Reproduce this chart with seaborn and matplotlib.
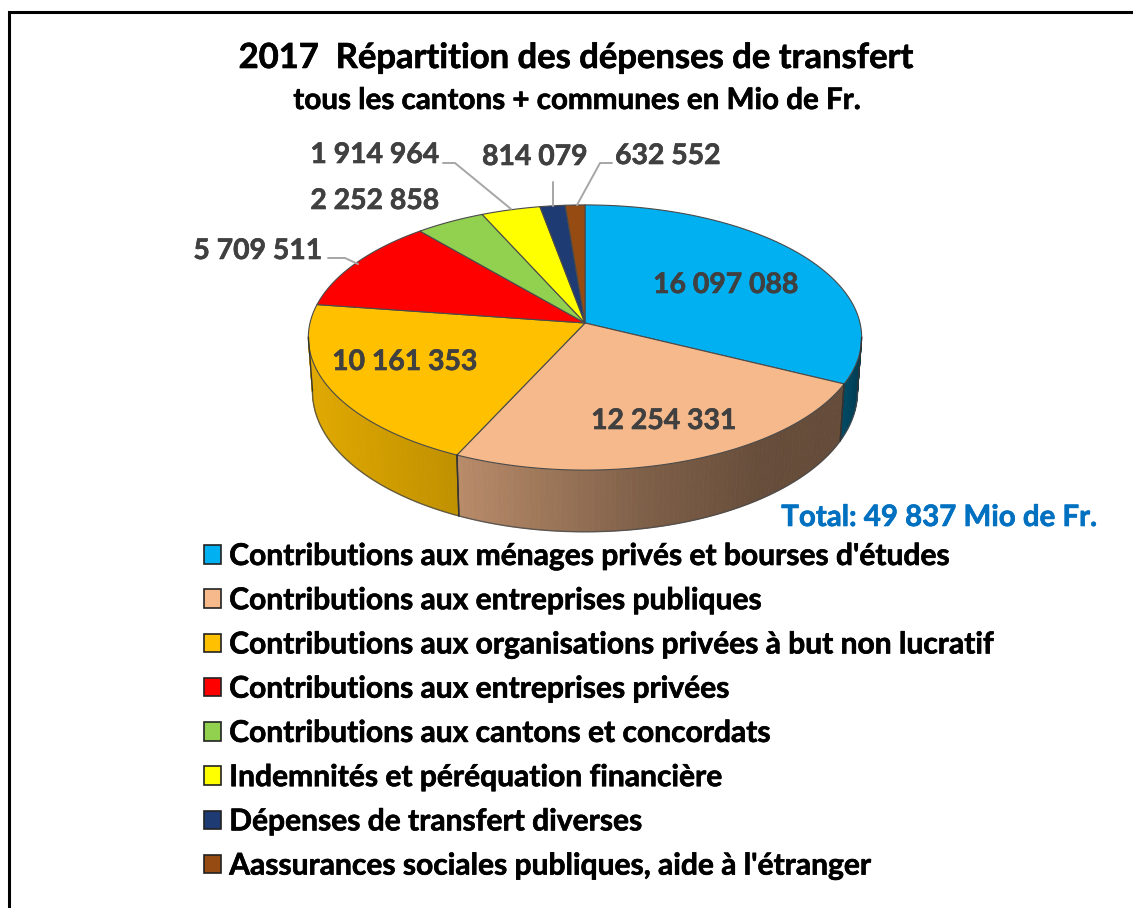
import matplotlib

matplotlib.use("Agg")
import matplotlib.patheffects as pe
import matplotlib.pyplot as plt
import numpy as np
import seaborn as sns
from matplotlib.patches import Patch

CATEGORIES = [
    "Contributions aux ménages privés et bourses d'études",
    "Contributions aux entreprises publiques",
    "Contributions aux organisations privées à but non lucratif",
    "Contributions aux entreprises privées",
    "Contributions aux cantons et concordats",
    "Indemnités et péréquation financière",
    "Dépenses de transfert diverses",
    "Aassurances sociales publiques, aide à l'étranger",
]
VALUES = [16097088, 12254331, 10161353, 5709511, 2252858, 1914964, 814079, 632552]
COLORS = ["#00B0F0", "#F5B98C", "#FFC000", "#FF0000", "#92D050", "#FFFF00", "#1F3B73", "#964B12"]

TITLE = "2017  Répartition des dépenses de transfert"
SUBTITLE = "tous les cantons + communes en Mio de Fr."
TOTAL = "Total: 49 837 Mio de Fr."

# layout, in pixels of the 1133x908 picture
LABEL_XY = [(726, 285), (664, 421), (405, 362), (258, 251), (375, 201), (375, 155), (535, 157), (668, 156)]
LEADERS = [
    [(328, 258), (345, 258), (358, 264)],
    [(443, 163), (455, 163), (511, 209)],
    [(553, 182), (553, 206)],
    [(612, 163), (600, 163), (577, 205)],
]
CX, CY = 585, 323
RX, RY, PERSP = 275, 131, 0.1094
DEPTH, DEPTH_SLOPE, BOTTOM_SCALE = 53, 8.7, 0.985
SHADE_X = [309, 460, 640, 760, 845, 865]
SHADE_F = [0.88, 0.75, 0.52, 0.42, 0.41, 0.33]


def top_ring(theta):
    u, v = np.sin(theta), np.cos(theta)
    den = 1 + PERSP * v
    return CX + RX * u / den, CY - RY * v / den


def bottom_ring(theta):
    x, y = top_ring(theta)
    return CX + (x - CX) * BOTTOM_SCALE, y + DEPTH - DEPTH_SLOPE * np.cos(theta)


def heavy(color):
    # the reference's bold is heavier than Lato Bold
    return [pe.withStroke(linewidth=0.45, foreground=color)]


def main():
    sns.set_theme(style="white")
    plt.rcParams["font.family"] = ["Lato", "DejaVu Sans"]
    plt.rcParams["font.weight"] = "bold"
    palette = sns.color_palette(COLORS)

    fig = plt.figure(figsize=(11.33, 9.08), dpi=100)
    ax = fig.add_axes([0, 0, 1, 1])
    ax.set_xlim(0, 1133)
    ax.set_ylim(908, 0)
    ax.axis("off")

    # frame: only top and left fall inside the picture
    ax.plot([9, 9, 1133], [908, 12, 12], color="black", lw=2.2, solid_joinstyle="miter")

    edges = np.concatenate([[0], np.cumsum(VALUES)]) / sum(VALUES) * 2 * np.pi

    # side walls, shaded strip by strip
    for i, color in enumerate(palette):
        steps = np.linspace(edges[i], edges[i + 1], max(int(np.degrees(edges[i + 1] - edges[i])), 2))
        steps = steps[np.cos(steps) <= -PERSP + 0.02] if (np.cos(steps) <= -PERSP + 0.02).sum() > 1 else []
        if len(steps) == 0:
            continue
        for a, b in zip(steps[:-1], steps[1:]):
            x0, y0 = top_ring(a)
            x1, y1 = top_ring(b)
            x2, y2 = bottom_ring(b)
            x3, y3 = bottom_ring(a)
            f = np.interp((x0 + x1) / 2, SHADE_X, SHADE_F)
            shaded = tuple(c * f for c in color)
            ax.fill([x0, x1, x2, x3], [y0, y1, y2, y3], color=shaded, lw=0.6)
        xb, yb = bottom_ring(steps)
        ax.plot(xb, yb, color="#4a4a4a", lw=1.0, alpha=0.8)
        for t in [steps[0], steps[-1]]:
            xt, yt = top_ring(t)
            xb, yb = bottom_ring(t)
            ax.plot([xt, xb], [yt, yb], color="#333333", lw=1.0)

    # top faces
    for i, color in enumerate(palette):
        steps = np.linspace(edges[i], edges[i + 1], 120)
        x, y = top_ring(steps)
        ax.fill(np.r_[CX, x], np.r_[CY, y], facecolor=color, edgecolor="#4a4a4a", lw=0.8, joinstyle="round")

    for path in LEADERS:
        xs, ys = zip(*path)
        ax.plot(xs, ys, color="#A6A6A6", lw=1.4)

    for value, (x, y) in zip(VALUES, LABEL_XY):
        text = f"{value:,}".replace(",", " ")
        ax.text(x, y, text, ha="center", va="center", fontsize=20.4, color="#404040", path_effects=heavy("#404040"))

    ax.text(577, 58, TITLE, ha="center", va="center", fontsize=24.9, color="black", path_effects=heavy("black"))
    ax.text(577, 100, SUBTITLE, ha="center", va="center", fontsize=21.3, color="black", path_effects=heavy("black"))
    ax.text(1096, 518, TOTAL, ha="right", va="center", fontsize=21.2, color="#0070C0", path_effects=heavy("#0070C0"))

    handles = [Patch(facecolor=c, edgecolor="#222222", lw=1.2) for c in palette]
    legend = ax.legend(
        handles,
        CATEGORIES,
        loc="upper left",
        bbox_to_anchor=(204 / 1133, 1 - 542 / 908),
        frameon=False,
        borderpad=0,
        borderaxespad=0,
        fontsize=21.6,
        handlelength=0.57,
        handleheight=0.57,
        handletextpad=0.27,
        labelspacing=0.541,
        labelcolor="black",
    )
    for text in legend.get_texts():
        text.set_path_effects(heavy("black"))

    fig.savefig("out.png", dpi=100)


if __name__ == "__main__":
    main()
